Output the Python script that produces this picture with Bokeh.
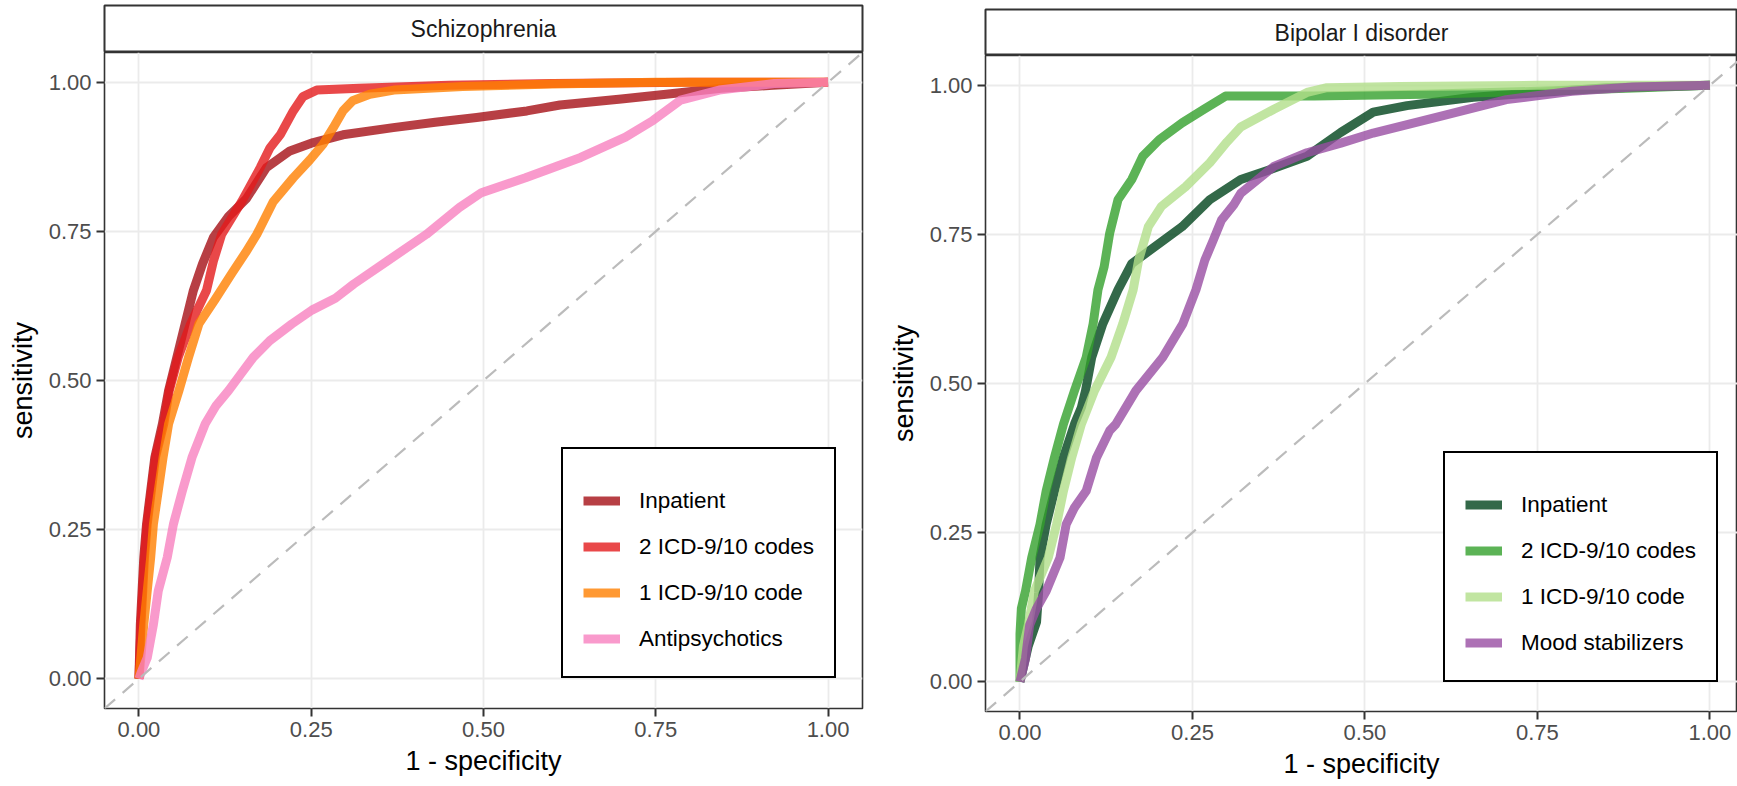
from bokeh.plotting import figure
from bokeh.layouts import row, column
from bokeh.models import Range1d, Legend, LegendItem, Label, Slope, FixedTicker
from bokeh.embed import file_html
from bokeh.resources import INLINE

# ---------------- data ----------------
panel_names = ["Schizophrenia", "Bipolar I disorder"]
tick_values = [0.0, 0.25, 0.5, 0.75, 1.0]
tick_labels = ["0.00", "0.25", "0.50", "0.75", "1.00"]
x_title = "1 - specificity"
y_title = "sensitivity"

scz_labels = ["Inpatient", "2 ICD-9/10 codes", "1 ICD-9/10 code", "Antipsychotics"]
bip_labels = ["Inpatient", "2 ICD-9/10 codes", "1 ICD-9/10 code", "Mood stabilizers"]

scz_inpatient_x = [0.0, 0.002, 0.007, 0.011, 0.017, 0.023, 0.034, 0.043, 0.055, 0.067, 0.079, 0.092, 0.108, 0.130, 0.156, 0.185, 0.219, 0.253, 0.296, 0.369, 0.430, 0.490, 0.563, 0.611, 0.700, 0.765, 0.845, 0.920, 1.0]
scz_inpatient_y = [0.0, 0.091, 0.203, 0.259, 0.315, 0.371, 0.427, 0.483, 0.539, 0.595, 0.651, 0.695, 0.740, 0.775, 0.805, 0.857, 0.885, 0.899, 0.912, 0.924, 0.933, 0.941, 0.952, 0.962, 0.972, 0.980, 0.990, 0.995, 1.0]

scz_icd2_x = [0.0, 0.003, 0.008, 0.012, 0.018, 0.024, 0.036, 0.044, 0.057, 0.075, 0.098, 0.108, 0.120, 0.149, 0.176, 0.190, 0.205, 0.224, 0.238, 0.258, 0.320, 0.450, 0.600, 0.800, 1.0]
scz_icd2_y = [0.0, 0.091, 0.203, 0.259, 0.315, 0.371, 0.427, 0.483, 0.539, 0.595, 0.651, 0.700, 0.745, 0.800, 0.857, 0.890, 0.912, 0.952, 0.976, 0.987, 0.990, 0.995, 0.998, 1.0, 1.0]

scz_icd1_x = [0.0, 0.007, 0.017, 0.021, 0.028, 0.035, 0.043, 0.058, 0.072, 0.087, 0.110, 0.135, 0.155, 0.171, 0.195, 0.224, 0.248, 0.267, 0.282, 0.296, 0.310, 0.335, 0.370, 0.470, 0.600, 0.750, 1.0]
scz_icd1_y = [0.0, 0.091, 0.203, 0.259, 0.315, 0.371, 0.427, 0.483, 0.539, 0.595, 0.635, 0.680, 0.715, 0.745, 0.800, 0.840, 0.870, 0.896, 0.924, 0.952, 0.969, 0.980, 0.987, 0.993, 0.997, 1.0, 1.0]

scz_anti_x = [0.0, 0.003, 0.012, 0.021, 0.028, 0.041, 0.050, 0.063, 0.077, 0.096, 0.112, 0.130, 0.148, 0.166, 0.190, 0.222, 0.251, 0.285, 0.312, 0.360, 0.417, 0.465, 0.497, 0.561, 0.641, 0.706, 0.746, 0.786, 0.842, 0.922, 1.0]
scz_anti_y = [0.0, 0.010, 0.035, 0.091, 0.147, 0.203, 0.259, 0.315, 0.371, 0.427, 0.458, 0.483, 0.511, 0.539, 0.567, 0.595, 0.618, 0.638, 0.662, 0.700, 0.745, 0.790, 0.815, 0.840, 0.874, 0.908, 0.936, 0.970, 0.987, 0.998, 1.0]

bip_inpatient_x = [0.0, 0.012, 0.024, 0.027, 0.029, 0.038, 0.050, 0.063, 0.079, 0.089, 0.095, 0.104, 0.120, 0.142, 0.162, 0.202, 0.235, 0.275, 0.320, 0.363, 0.416, 0.465, 0.512, 0.561, 0.657, 0.754, 0.850, 1.0]
bip_inpatient_y = [0.0, 0.060, 0.100, 0.150, 0.208, 0.264, 0.320, 0.376, 0.432, 0.460, 0.488, 0.544, 0.600, 0.657, 0.701, 0.735, 0.763, 0.808, 0.842, 0.859, 0.881, 0.921, 0.955, 0.966, 0.980, 0.988, 0.996, 1.0]

bip_icd2_x = [0.0, 0.0, 0.002, 0.008, 0.017, 0.029, 0.038, 0.050, 0.063, 0.079, 0.096, 0.106, 0.113, 0.122, 0.130, 0.142, 0.162, 0.178, 0.202, 0.235, 0.267, 0.298, 0.426, 0.587, 0.750, 0.900, 1.0]
bip_icd2_y = [0.0, 0.080, 0.123, 0.152, 0.208, 0.264, 0.320, 0.376, 0.432, 0.488, 0.544, 0.600, 0.657, 0.696, 0.752, 0.808, 0.842, 0.881, 0.909, 0.937, 0.960, 0.982, 0.982, 0.985, 0.990, 0.996, 1.0]

bip_icd1_x = [0.0, 0.005, 0.012, 0.021, 0.041, 0.053, 0.063, 0.075, 0.089, 0.108, 0.132, 0.149, 0.164, 0.172, 0.186, 0.205, 0.240, 0.275, 0.300, 0.320, 0.368, 0.416, 0.445, 0.550, 0.750, 1.0]
bip_icd1_y = [0.0, 0.060, 0.095, 0.152, 0.208, 0.264, 0.320, 0.376, 0.432, 0.488, 0.544, 0.600, 0.657, 0.707, 0.763, 0.797, 0.830, 0.870, 0.905, 0.930, 0.960, 0.988, 0.996, 0.998, 1.0, 1.0]

bip_mood_x = [0.0, 0.008, 0.014, 0.024, 0.038, 0.048, 0.058, 0.067, 0.079, 0.096, 0.111, 0.130, 0.139, 0.168, 0.207, 0.236, 0.255, 0.268, 0.280, 0.292, 0.310, 0.320, 0.368, 0.416, 0.465, 0.512, 0.609, 0.705, 0.800, 0.888, 1.0]
bip_mood_y = [0.0, 0.039, 0.095, 0.123, 0.152, 0.180, 0.208, 0.264, 0.292, 0.320, 0.376, 0.421, 0.432, 0.488, 0.544, 0.600, 0.657, 0.707, 0.740, 0.774, 0.800, 0.819, 0.864, 0.887, 0.903, 0.920, 0.948, 0.976, 0.990, 0.997, 1.0]

scz_colors = ["#A50F15", "#E41A1C", "#FF7F00", "#F781BF"]
bip_colors = ["#00441B", "#33A02C", "#B2DF8A", "#984EA3"]

scz_series = [(scz_inpatient_x, scz_inpatient_y), (scz_icd2_x, scz_icd2_y),
              (scz_icd1_x, scz_icd1_y), (scz_anti_x, scz_anti_y)]
bip_series = [(bip_inpatient_x, bip_inpatient_y), (bip_icd2_x, bip_icd2_y),
              (bip_icd1_x, bip_icd1_y), (bip_mood_x, bip_mood_y)]

FONT = "Liberation Sans"


def make_strip(name, width, height, mbl, mbr, mbt):
    s = figure(width=width, height=height, x_range=Range1d(0, 1), y_range=Range1d(0, 1),
               output_backend="svg", toolbar_location=None,
               x_axis_location=None, y_axis_location=None,
               min_border_left=mbl, min_border_right=mbr, min_border_top=mbt, min_border_bottom=0)
    s.grid.visible = False
    s.outline_line_color = "#333333"
    s.outline_line_width = 2
    s.background_fill_color = "white"
    s.border_fill_color = "white"
    s.add_layout(Label(x=0.5, y=0.5, text=name, text_align="center", text_baseline="middle",
                       text_font=FONT, text_font_size="23px", text_color="#1A1A1A"))
    return s


def make_panel(series, labels, colors, width, height, x_end, mbl, mbr, mbb, legend_loc):
    p = figure(width=width, height=height, x_range=Range1d(-0.05, x_end), y_range=Range1d(-0.05, 1.05),
               output_backend="svg", toolbar_location=None,
               min_border_left=mbl, min_border_right=mbr, min_border_top=0, min_border_bottom=mbb)
    p.background_fill_color = "white"
    p.border_fill_color = "white"
    p.outline_line_color = "#333333"
    p.outline_line_width = 1.6

    for ax in (p.xaxis[0], p.yaxis[0]):
        ax.ticker = FixedTicker(ticks=tick_values)
        ax.major_label_overrides = dict(zip(tick_values, tick_labels))
        ax.axis_line_color = None
        ax.major_tick_line_color = "#333333"
        ax.major_tick_line_width = 2
        ax.major_tick_out = 8
        ax.major_tick_in = 0
        ax.minor_tick_line_color = None
        ax.major_label_text_font = FONT
        ax.major_label_text_font_size = "22px"
        ax.major_label_text_color = "#4D4D4D"
        ax.major_label_standoff = 5
        ax.axis_label_text_font = FONT
        ax.axis_label_text_font_size = "27px"
        ax.axis_label_text_font_style = "normal"
        ax.axis_label_text_color = "black"
    p.xaxis.axis_label = x_title
    p.yaxis.axis_label = y_title
    p.xaxis.axis_label_standoff = 6
    p.yaxis.axis_label_standoff = 8

    p.grid.grid_line_color = "#EBEBEB"
    p.grid.grid_line_width = 1.8
    p.grid.minor_grid_line_color = None

    items = []
    for (xs, ys), lab, col in zip(series, labels, colors):
        r = p.line(xs, ys, line_color=col, line_width=9, line_alpha=0.8, line_join="round")
        items.append(LegendItem(label=lab, renderers=[r]))

    p.add_layout(Slope(gradient=1, y_intercept=0, line_color="#BBBBBB", line_width=2.2, line_dash="14 10"))

    leg = Legend(items=items, location=legend_loc, orientation="vertical",
                 border_line_color="black", border_line_width=2, border_line_alpha=1,
                 background_fill_color="white", background_fill_alpha=1,
                 padding=20, spacing=11, margin=0,
                 label_text_font=FONT, label_text_font_size="22.5px", label_text_color="black",
                 label_height=35, label_standoff=19, glyph_width=37, glyph_height=11,
                 title=" ", title_text_font_size="11px", title_standoff=2)
    p.add_layout(leg)
    return p


strip_l = make_strip(panel_names[0], 870, 52, 104, 8, 5)
panel_l = make_panel(scz_series, scz_labels, scz_colors, 870, 734, 1.05, 104, 8, 78, (457, 30))

strip_r = make_strip(panel_names[1], 867, 55, 115, 0, 9)
panel_r = make_panel(bip_series, bip_labels, bip_colors, 867, 731, 1.04, 115, 0, 75, (458, 29))

layout = row(column(strip_l, panel_l), column(strip_r, panel_r))

open("out.html", "w").write(file_html(layout, INLINE))
